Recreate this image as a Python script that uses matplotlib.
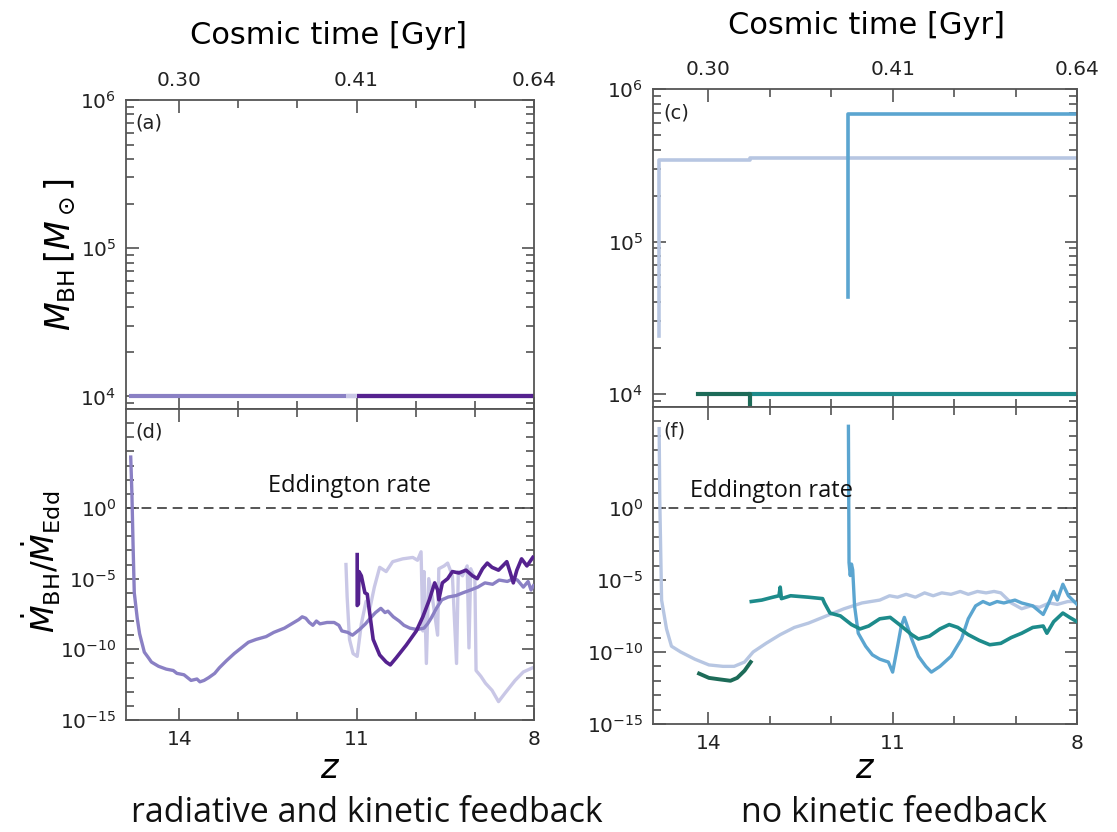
import numpy as np
import matplotlib.pyplot as plt
from matplotlib.ticker import FixedLocator, NullFormatter, LogLocator

# redshift ticks and the cosmic time shown on the top axis
z_major = [14, 11, 8]
z_minor = [13, 12, 10, 9]
time_labels = ['0.30', '0.41', '0.64']

# ---- radiative and kinetic feedback runs ----
# BH masses (all stay at the seed mass)
z_mass_mid = [14.85, 8.0]
mass_mid = [1e4, 1e4]
z_mass_light = [11.18, 8.0]
mass_light = [1e4, 1e4]
z_mass_dark = [11.0, 8.0]
mass_dark = [1e4, 1e4]

# accretion rate / Eddington rate, log10 values
z_rate_mid = [14.82, 14.80, 14.78, 14.76, 14.71, 14.67, 14.59, 14.52, 14.47, 14.35, 14.22,
              14.10, 14.04, 13.92, 13.80, 13.70, 13.65, 13.58, 13.50, 13.40, 13.32, 13.20,
              13.07, 12.95, 12.83, 12.70, 12.53, 12.40, 12.22, 12.10, 11.98, 11.92, 11.86,
              11.80, 11.74, 11.68, 11.62, 11.50, 11.38, 11.30, 11.25, 11.15, 11.07, 10.95,
              10.85, 10.77, 10.68, 10.59, 10.52, 10.47, 10.38, 10.28, 10.20, 10.10, 9.98,
              9.86, 9.80, 9.74, 9.65, 9.56, 9.45, 9.32, 9.20, 9.07, 8.95, 8.83, 8.70, 8.59,
              8.45, 8.35, 8.28, 8.18, 8.10, 8.05, 8.01]
lr_rate_mid = [3.6, 1.0, -2.7, -6.0, -7.8, -8.9, -10.2, -10.6, -10.9, -11.2, -11.4,
               -11.5, -11.7, -11.8, -12.2, -12.1, -12.3, -12.2, -12.0, -11.7, -11.3, -10.8,
               -10.3, -9.9, -9.5, -9.3, -9.1, -8.8, -8.5, -8.2, -7.9, -7.7, -7.8,
               -8.1, -8.3, -8.0, -8.2, -8.1, -8.1, -8.3, -8.7, -8.8, -9.0, -8.6,
               -8.2, -7.8, -7.4, -7.1, -7.4, -7.3, -7.7, -8.0, -8.3, -8.5, -8.6,
               -8.5, -8.2, -7.8, -7.1, -6.5, -6.3, -6.2, -6.0, -5.8, -5.6, -5.3, -5.4, -5.1,
               -5.2, -5.0, -5.1, -5.6, -5.2, -5.8, -5.5]

z_rate_light = [11.18, 11.16, 11.12, 11.06, 10.99, 10.92, 10.84, 10.78, 10.70, 10.61, 10.50,
                10.39, 10.22, 10.05, 9.97, 9.91, 9.88, 9.86, 9.82, 9.78, 9.72, 9.63, 9.61,
                9.52, 9.46, 9.38, 9.31, 9.28, 9.21, 9.13, 9.10, 9.07, 9.00, 8.98, 8.90,
                8.82, 8.71, 8.60, 8.49, 8.32, 8.18, 8.02]
lr_rate_light = [-4.0, -6.3, -9.3, -10.3, -10.5, -8.2, -6.6, -7.2, -5.6, -4.2, -4.5,
                 -3.8, -3.6, -3.5, -3.7, -3.1, -8.7, -4.5, -11.0, -5.0, -6.3, -9.0, -4.3,
                 -4.1, -3.9, -4.8, -11.0, -4.5, -4.8, -4.1, -9.9, -4.3, -5.0, -11.5, -11.9,
                 -12.4, -12.9, -13.7, -13.1, -12.2, -11.6, -11.3]

z_rate_dark = [10.99, 10.99, 10.97, 10.96, 10.92, 10.86, 10.82, 10.78, 10.72, 10.61, 10.50,
               10.43, 10.33, 10.16, 9.99, 9.88, 9.77, 9.68, 9.63, 9.61, 9.55, 9.46, 9.38,
               9.27, 9.15, 9.04, 8.96, 8.87, 8.79, 8.71, 8.60, 8.46, 8.40, 8.35, 8.29,
               8.21, 8.12, 8.02]
lr_rate_dark = [-3.3, -6.9, -6.8, -4.5, -4.8, -6.0, -6.1, -7.4, -9.3, -10.4, -10.9,
                -11.1, -10.6, -9.7, -8.7, -7.7, -6.5, -5.3, -5.8, -6.5, -5.3, -5.0, -4.5,
                -4.6, -4.4, -4.8, -5.0, -4.3, -3.9, -4.2, -4.4, -3.8, -4.6, -5.3, -4.4,
                -3.6, -4.1, -3.5]

# ---- no kinetic feedback runs ----
z_mass_pale = [14.80, 14.80, 13.32, 13.32, 8.0]
mass_pale = [2.4e4, 3.4e5, 3.4e5, 3.55e5, 3.55e5]
z_mass_blue = [11.72, 11.72, 8.0]
mass_blue = [4.3e4, 6.9e5, 6.9e5]
z_mass_green = [14.16, 13.32, 13.32]
mass_green = [1e4, 1e4, 7e3]
z_mass_teal = [13.32, 8.0]
mass_teal = [1e4, 1e4]

z_rate_pale = [14.80, 14.79, 14.76, 14.68, 14.60, 14.45, 14.22, 13.99, 13.76, 13.58, 13.41,
               13.27, 13.06, 12.83, 12.60, 12.37, 12.08, 11.79, 11.50, 11.21, 11.05, 10.92,
               10.78, 10.63, 10.48, 10.34, 10.20, 10.05, 9.90, 9.77, 9.62, 9.48, 9.35, 9.24,
               9.07, 8.90, 8.75, 8.61, 8.45, 8.32, 8.15, 8.0]
lr_rate_pale = [5.5, 0.6, -6.4, -8.4, -9.6, -10.0, -10.5, -10.9, -11.0, -11.0, -10.7,
                -10.0, -9.4, -8.8, -8.3, -8.0, -7.5, -7.0, -6.6, -6.4, -6.1, -6.2,
                -6.0, -6.2, -5.9, -6.1, -5.9, -6.0, -5.8, -6.0, -5.8, -5.9, -5.8, -5.9,
                -6.6, -7.0, -6.8, -6.9, -6.6, -6.7, -6.5, -6.5]

z_rate_blue = [11.72, 11.71, 11.69, 11.67, 11.65, 11.62, 11.56, 11.44, 11.33, 11.21, 11.07,
               11.00, 10.92, 10.86, 10.81, 10.69, 10.58, 10.46, 10.37, 10.23, 10.05, 9.88,
               9.77, 9.65, 9.53, 9.42, 9.30, 9.19, 9.01, 8.90, 8.72, 8.55, 8.46, 8.38,
               8.32, 8.23, 8.14, 8.0]
lr_rate_blue = [5.66, -3.8, -4.7, -3.9, -4.3, -6.8, -8.7, -9.6, -10.2, -10.5, -10.7,
                -11.4, -9.6, -8.2, -7.6, -9.1, -10.3, -11.0, -11.4, -11.0, -10.3, -9.1,
                -7.7, -6.8, -6.5, -6.7, -6.5, -6.6, -6.4, -6.6, -6.8, -7.4, -6.6, -5.8,
                -6.4, -5.3, -6.1, -6.7]

z_rate_green = [14.15, 13.99, 13.82, 13.64, 13.53, 13.41, 13.31]
lr_rate_green = [-11.5, -11.8, -11.9, -12.0, -11.8, -11.3, -10.7]

z_rate_teal = [13.30, 13.13, 12.95, 12.85, 12.83, 12.81, 12.66, 12.37, 12.14, 12.11, 12.02,
               11.85, 11.67, 11.53, 11.39, 11.21, 11.04, 10.86, 10.69, 10.58, 10.40, 10.23,
               10.08, 9.94, 9.77, 9.59, 9.42, 9.24, 9.07, 8.90, 8.72, 8.55, 8.49, 8.38,
               8.23, 8.12, 8.0]
lr_rate_teal = [-6.5, -6.4, -6.2, -6.1, -5.5, -6.3, -6.1, -6.2, -6.3, -6.6, -7.3,
                -7.5, -8.1, -8.4, -8.2, -7.7, -7.6, -8.2, -8.8, -9.1, -8.9, -8.4,
                -8.1, -8.3, -8.8, -9.2, -9.5, -9.4, -9.0, -8.7, -8.3, -8.2, -8.7, -7.9,
                -7.3, -7.6, -7.9]

# line colours
purple_mid = '#8a80c4'
purple_light = '#c9c7e6'
purple_dark = '#55228f'
pale_blue = '#b7c6e2'
blue = '#5ba5d0'
dark_green = '#1d6b58'
teal = '#1d8b8b'

W, H = 1117, 832
fig = plt.figure(figsize=(W / 100, H / 100), dpi=100)


def box(x0, y0, x1, y1):
    # pixel box (top-left origin) -> figure fraction rect
    return [x0 / W, 1 - y1 / H, (x1 - x0) / W, (y1 - y0) / H]


def fpos(x, y):
    return x / W, 1 - y / H


def style(ax):
    ax.set_xlim(14.9, 8)
    ax.xaxis.set_major_locator(FixedLocator(z_major))
    ax.xaxis.set_minor_locator(FixedLocator(z_minor))
    ax.tick_params(which='both', direction='in', top=True, right=True,
                   color='#444444', labelcolor='#222222', labelsize=14.5, pad=7)
    ax.tick_params(which='major', length=9, width=1.1)
    ax.tick_params(which='minor', length=6, width=1.1)
    for sp in ax.spines.values():
        sp.set_color('#555555')
        sp.set_linewidth(1.3)


def mass_axes(ax, label):
    style(ax)
    ax.set_yscale('log')
    ax.set_ylim(10 ** 3.915, 1e6)
    ax.yaxis.set_major_locator(FixedLocator([1e4, 1e5, 1e6]))
    ax.yaxis.set_minor_locator(LogLocator(base=10, subs=np.arange(2, 10)))
    ax.yaxis.set_minor_formatter(NullFormatter())
    ax.set_xticklabels(time_labels)
    ax.tick_params(labeltop=True, labelbottom=False)
    ax.text(0.024, 0.955, label, transform=ax.transAxes, va='top', ha='left',
            fontsize=14, color='#222222')


def rate_axes(ax, label):
    style(ax)
    ax.set_yscale('log')
    ax.set_ylim(1e-15, 1e7)
    ax.yaxis.set_major_locator(FixedLocator([1e-15, 1e-10, 1e-5, 1e0]))
    ax.yaxis.set_minor_locator(FixedLocator([10.0 ** k for k in range(-14, 7)]))
    ax.yaxis.set_minor_formatter(NullFormatter())
    ax.set_xticklabels(['14', '11', '8'])
    ax.axhline(1.0, ls=(0, (5, 3)), color='#555555', lw=1.4, zorder=1)
    ax.text(0.024, 0.955, label, transform=ax.transAxes, va='top', ha='left',
            fontsize=14, color='#222222')


# left column
ax_a = fig.add_axes(box(126, 100, 534, 409))
ax_d = fig.add_axes(box(126, 409, 534, 720))
mass_axes(ax_a, '(a)')
rate_axes(ax_d, '(d)')

ax_a.plot(z_mass_mid, mass_mid, color=purple_mid, lw=3, solid_capstyle='butt')
ax_a.plot(z_mass_light, mass_light, color=purple_light, lw=3, solid_capstyle='butt')
ax_a.plot(z_mass_dark, mass_dark, color=purple_dark, lw=3, solid_capstyle='butt')

for z, lr, c, lw, zo in [(z_rate_light, lr_rate_light, purple_light, 2.4, 2),
                         (z_rate_mid, lr_rate_mid, purple_mid, 2.4, 3),
                         (z_rate_dark, lr_rate_dark, purple_dark, 2.6, 4)]:
    ax_d.plot(z, 10.0 ** np.array(lr), color=c, lw=lw, zorder=zo)

# right column
ax_c = fig.add_axes(box(653, 89, 1077, 407))
ax_f = fig.add_axes(box(653, 407, 1077, 724))
mass_axes(ax_c, '(c)')
rate_axes(ax_f, '(f)')

ax_c.plot(z_mass_pale, mass_pale, color=pale_blue, lw=2.6)
ax_c.plot(z_mass_blue, mass_blue, color=blue, lw=2.6)
ax_c.plot(z_mass_teal, mass_teal, color=teal, lw=3)
ax_c.plot(z_mass_green, mass_green, color=dark_green, lw=3)

for z, lr, c, lw, zo in [(z_rate_pale, lr_rate_pale, pale_blue, 2.4, 2),
                         (z_rate_blue, lr_rate_blue, blue, 2.4, 3),
                         (z_rate_teal, lr_rate_teal, teal, 2.6, 4),
                         (z_rate_green, lr_rate_green, dark_green, 2.8, 4)]:
    ax_f.plot(z, 10.0 ** np.array(lr), color=c, lw=lw, zorder=zo)

# axis titles and labels
fig.text(*fpos(329, 35), 'Cosmic time [Gyr]', ha='center', va='center', fontsize=22)
fig.text(*fpos(866, 25), 'Cosmic time [Gyr]', ha='center', va='center', fontsize=22)
fig.text(*fpos(60, 255), r'$M_{\rm BH}\,[M_\odot]$', rotation=90,
         ha='center', va='center', fontsize=24)
fig.text(*fpos(41, 562), r'$\dot{M}_{\rm BH}/\dot{M}_{\rm Edd}$', rotation=90,
         ha='center', va='center', fontsize=23)
fig.text(*fpos(330, 768), r'$z$', ha='center', va='center', fontsize=24)
fig.text(*fpos(865, 768), r'$z$', ha='center', va='center', fontsize=24)

cap_font = ['Open Sans', 'DejaVu Sans']
fig.text(*fpos(350, 486), 'Eddington rate', ha='center', va='center',
         fontsize=17, family=cap_font, color='#111111')
fig.text(*fpos(771, 491), 'Eddington rate', ha='center', va='center',
         fontsize=17, family=cap_font, color='#111111')
fig.text(*fpos(367, 813), 'radiative and kinetic feedback', ha='center', va='center',
         fontsize=24.5, family=cap_font, color='#111111')
fig.text(*fpos(894, 813), 'no kinetic feedback', ha='center', va='center',
         fontsize=24.5, family=cap_font, color='#111111')

fig.savefig('out.png', dpi=100)
